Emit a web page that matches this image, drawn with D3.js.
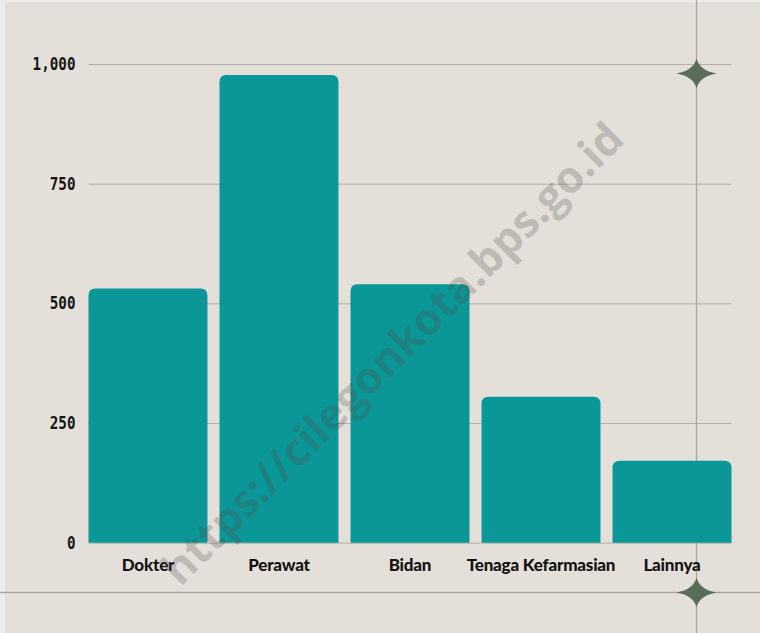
<!DOCTYPE html>
<html>
<head>
<meta charset="utf-8">
<script src="https://cdn.jsdelivr.net/npm/d3@7"></script>
<style>
  html, body { margin: 0; padding: 0; background: #e4e0d9; }
  #canvas { width: 760px; height: 633px; }
</style>
</head>
<body>
<div id="canvas"></div>
<script>
const categories = ['Dokter', 'Perawat', 'Bidan', 'Tenaga Kefarmasian', 'Lainnya']
const values = [531, 977, 540, 305, 171]
const yTicks = [0, 250, 500, 750, 1000]

const width = 760
const height = 633
const plot = { left: 88.5, right: 731.5, top: 64, bottom: 542.7 }

const svg = d3.select('#canvas')
    .append('svg')
        .attr('width', width)
        .attr('height', height)
        .attr('viewBox', [0, 0, width, height])

svg.append('rect')
    .attr('width', width)
    .attr('height', height)
    .attr('fill', '#e4e0d9')

// thin light frame on the left/top edge
svg.append('rect').attr('width', 5).attr('height', height).attr('fill', '#eeece8')
svg.append('rect').attr('width', width).attr('height', 2).attr('fill', '#eeece8')

const x = d3.scaleBand()
    .domain(categories)
    .range([plot.left, plot.right])
    .paddingInner(0.092)
    .paddingOuter(0)

const y = d3.scaleLinear()
    .domain([0, 1000])
    .range([plot.bottom, plot.top])

// grid + y labels
const yAxis = svg.append('g')
    .attr('transform', `translate(${plot.left}, 0)`)
    .call(d3.axisLeft(y)
        .tickValues(yTicks)
        .tickFormat(d3.format(','))
        .tickSize(-(plot.right - plot.left))
        .tickPadding(13))

yAxis.select('.domain').remove()
yAxis.selectAll('.tick line')
    .attr('stroke', '#b3afa7')
    .attr('stroke-width', 1)
yAxis.selectAll('.tick text')
    .attr('fill', '#141414')
    .attr('font-family', '"DejaVu Sans Mono", monospace')
    .attr('font-weight', 'bold')
    .attr('font-size', '17px')
    .attr('x', -13 / 0.84)
    .attr('transform', 'scale(0.84,1)')

// decorative frame lines
svg.append('line')
    .attr('x1', 696.5).attr('x2', 696.5)
    .attr('y1', 0).attr('y2', height)
    .attr('stroke', '#aba79f')
    .attr('stroke-width', 1.3)
svg.append('line')
    .attr('x1', 0).attr('x2', width)
    .attr('y1', 592.5).attr('y2', 592.5)
    .attr('stroke', '#aba79f')
    .attr('stroke-width', 1.3)

function topRounded(x0, y0, w, h, r) {
    r = Math.min(r, h, w / 2)
    return `M${x0},${y0 + h}V${y0 + r}Q${x0},${y0} ${x0 + r},${y0}` +
        `H${x0 + w - r}Q${x0 + w},${y0} ${x0 + w},${y0 + r}V${y0 + h}Z`
}

svg.append('g').selectAll('path')
    .data(categories.map((c, i) => ({ name: c, value: values[i] })))
    .enter()
    .append('path')
    .attr('fill', '#0b9697')
    .attr('d', d => topRounded(x(d.name), y(d.value), x.bandwidth(), y(0) - y(d.value), 7))

// x labels
svg.append('g').selectAll('text')
    .data(categories)
    .enter()
    .append('text')
    .attr('x', d => x(d) + x.bandwidth() / 2)
    .attr('y', 571)
    .attr('text-anchor', 'middle')
    .attr('font-family', 'Lato, sans-serif')
    .attr('font-weight', 900)
    .attr('font-size', '17px')
    .attr('letter-spacing', '-0.2px')
    .attr('fill', '#141414')
    .text(d => d)

// stars
function star(cx, cy, rx, ry, k) {
    return `M${cx - rx},${cy}Q${cx - k},${cy - k} ${cx},${cy - ry}` +
        `Q${cx + k},${cy - k} ${cx + rx},${cy}` +
        `Q${cx + k},${cy + k} ${cx},${cy + ry}` +
        `Q${cx - k},${cy + k} ${cx - rx},${cy}Z`
}
svg.append('path').attr('d', star(696.5, 73.5, 20, 15, 3)).attr('fill', '#5a6d58')
svg.append('path').attr('d', star(696.5, 592.5, 20, 15, 3)).attr('fill', '#5a6d58')

// watermark
svg.append('text')
    .attr('transform', 'translate(395, 356) rotate(-45)')
    .attr('text-anchor', 'middle')
    .attr('dominant-baseline', 'middle')
    .attr('font-family', '"Open Sans", sans-serif')
    .attr('font-weight', 'bold')
    .attr('font-size', '44px')
    .attr('fill', 'rgba(80, 75, 70, 0.27)')
    .text('https://cilegonkota.bps.go.id')
</script>
</body>
</html>
